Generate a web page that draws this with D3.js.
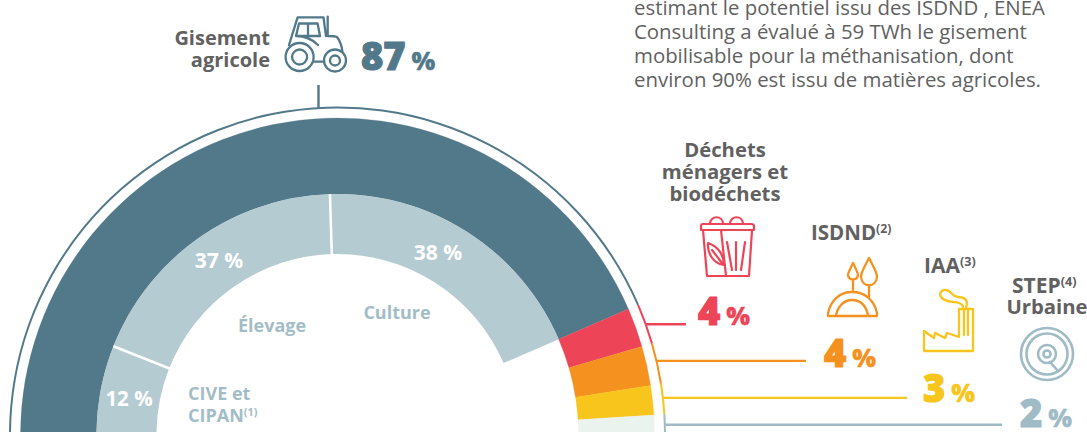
<!DOCTYPE html>
<html>
<head>
<meta charset="utf-8">
<script src="https://cdn.jsdelivr.net/npm/d3@7"></script>
<style>
html, body { margin: 0; padding: 0; background: #fff; overflow: hidden; }
svg { display: block; }
text { font-family: "Open Sans", sans-serif; }
</style>
</head>
<body>
<svg id="chart" width="1087" height="432"></svg>
<script>
// gisement mobilisable, parts en %
var sources = ["Gisement agricole", "Déchets ménagers et biodéchets", "ISDND", "IAA", "STEP Urbaine"];
var source_values = [87, 4, 4, 3, 2];
var ring_colors = ["#52798a", "#ee4458", "#f5911e", "#f7c51b", "#eaf3ed"];
var edge_colors = ["#52798a", "#ee4458", "#f5911e", "#f7c51b", "#9fbbc6"];

var agri_sources = ["CIVE et CIPAN", "Élevage", "Culture"];
var agri_values = [12, 37, 38];
var other_value = 13; // reste du demi-cercle, non dessiné

var paragraph = [
    "estimant le potentiel issu des ISDND , ENEA",
    "Consulting a évalué à 59 TWh le gisement",
    "mobilisable pour la méthanisation, dont",
    "environ 90% est issu de matières agricoles."
];

var cx = 337.5, cy = 435;
var svg = d3.select("#chart");
var g = svg.append("g").attr("transform", "translate(" + cx + "," + cy + ")");

var pie = d3.pie().sort(null).value(function (d) { return d; })
    .startAngle(-Math.PI / 2).endAngle(Math.PI / 2);

var outer_arcs = pie(source_values);
var inner_arcs = pie(agri_values.concat([other_value]));

var ring = d3.arc().innerRadius(241).outerRadius(317);
var edge = d3.arc().innerRadius(326.5).outerRadius(328.5);
var inner_ring = d3.arc().innerRadius(181).outerRadius(241);

function draw_rings() {
    g.selectAll(".ring").data(outer_arcs).enter().append("path")
        .attr("class", "ring")
        .attr("d", ring)
        .attr("fill", function (d, i) { return ring_colors[i]; })
        .attr("stroke", function (d, i) { return ring_colors[i]; })
        .attr("stroke-width", 0.3);

    g.selectAll(".edge").data(outer_arcs).enter().append("path")
        .attr("class", "edge")
        .attr("d", edge)
        .attr("fill", function (d, i) { return edge_colors[i]; });

    g.selectAll(".inner").data(inner_arcs.slice(0, 3)).enter().append("path")
        .attr("class", "inner")
        .attr("d", inner_ring)
        .attr("fill", "#b5cbd2");

    // séparateurs blancs entre les parts agricoles
    g.selectAll(".sep").data(inner_arcs.slice(0, 2)).enter().append("line")
        .attr("class", "sep")
        .attr("x1", function (d) { return 180 * Math.sin(d.endAngle); })
        .attr("y1", function (d) { return -180 * Math.cos(d.endAngle); })
        .attr("x2", function (d) { return 241 * Math.sin(d.endAngle); })
        .attr("y2", function (d) { return -241 * Math.cos(d.endAngle); })
        .attr("stroke", "#fff")
        .attr("stroke-width", 2.5);
}

function draw_leaders() {
    var ends = [686, 806, 907, 1002];
    var along = [0.5, 0.43, 0.46, 0.5]; // où le trait part sur le segment
    outer_arcs.slice(1).forEach(function (d, i) {
        var a = d.startAngle + (d.endAngle - d.startAngle) * along[i];
        var x = cx + 327 * Math.sin(a), y = cy - 327 * Math.cos(a);
        svg.append("line")
            .attr("x1", x).attr("y1", y).attr("x2", ends[i]).attr("y2", y)
            .attr("stroke", edge_colors[i + 1])
            .attr("stroke-width", 2.4);
    });
    svg.append("line")
        .attr("x1", 318.5).attr("y1", 85).attr("x2", 318.5).attr("y2", 108)
        .attr("stroke", edge_colors[0]).attr("stroke-width", 2.4);
}

function label(lines, x, y, step, anchor, size, color, weight) {
    lines.forEach(function (t, i) {
        svg.append("text")
            .attr("x", x).attr("y", y + i * step)
            .attr("text-anchor", anchor)
            .style("font-size", size + "px")
            .style("font-weight", weight)
            .style("fill", color)
            .text(t);
    });
}

function sup_label(text, sup, x, y, anchor, size, color) {
    var t = svg.append("text")
        .attr("x", x).attr("y", y)
        .attr("text-anchor", anchor)
        .style("font-size", size + "px")
        .style("font-weight", 700)
        .style("fill", color)
        .text(text);
    t.append("tspan")
        .attr("dy", -size * 0.35)
        .style("font-size", (size * 0.6) + "px")
        .text(sup);
}

function percent(value, x, y, color, size) {
    var t = svg.append("text")
        .attr("x", x).attr("y", y)
        .style("font-size", size + "px")
        .style("font-weight", 800)
        .style("fill", color)
        .style("stroke", color)
        .style("stroke-width", 1.2)
        .style("stroke-linejoin", "round")
        .text(value);
    t.append("tspan")
        .attr("dx", 6)
        .style("font-size", (size * 0.66) + "px")
        .style("stroke-width", 0.3)
        .text("%");
}

function draw_labels() {
    var grey = "#616161";
    label(paragraph, 634, 15, 24, "start", 20.4, "#616161", 400);

    label(["Gisement", "agricole"], 270, 45, 22, "end", 20, grey, 700);
    label(["Déchets", "ménagers et", "biodéchets"], 725, 157, 21.8, "middle", 20.3, grey, 700);
    sup_label("ISDND", "(2)", 811, 240, "start", 20.5, grey);
    sup_label("IAA", "(3)", 924, 273, "start", 21, grey);
    sup_label("STEP", "(4)", 1012, 293, "start", 21, grey);
    label(["Urbaine"], 1047, 314, 0, "middle", 20.3, grey, 700);

    percent(source_values[0], 361, 70, ring_colors[0], 38);
    percent(source_values[1], 698, 325, ring_colors[1], 38);
    percent(source_values[2], 824, 367, ring_colors[2], 38);
    percent(source_values[3], 923, 402, ring_colors[3], 38);
    percent(source_values[4], 1020, 427, edge_colors[4], 38);

    label([agri_values[2] + " %"], 438, 260, 0, "middle", 21, "#fff", 700);
    label([agri_values[1] + " %"], 219, 268, 0, "middle", 21, "#fff", 700);
    label([agri_values[0] + " %"], 129, 406, 0, "middle", 20.5, "#fff", 700);

    label([agri_sources[2]], 397, 319, 0, "middle", 18, "#a3bdc7", 700);
    label([agri_sources[1]], 272, 332, 0, "middle", 18, "#a3bdc7", 700);
    label(["CIVE et"], 188, 400, 0, "start", 18, "#a3bdc7", 700);
    sup_label("CIPAN", "(1)", 188, 422, "start", 18, "#a3bdc7");
}

// pictos dessinés à la main
function icon(x, y, color, sw) {
    return svg.append("g")
        .attr("transform", "translate(" + x + "," + y + ")")
        .attr("fill", "none")
        .attr("stroke", color)
        .attr("stroke-width", sw)
        .attr("stroke-linejoin", "round")
        .attr("stroke-linecap", "round");
}

function draw_icons() {
    // tracteur
    var t = icon(285, 16, ring_colors[0], 2.3);
    t.append("circle").attr("cx", 14.6).attr("cy", 41).attr("r", 14);
    t.append("circle").attr("cx", 14.6).attr("cy", 41).attr("r", 7.5);
    t.append("circle").attr("cx", 50).attr("cy", 44.5).attr("r", 11);
    t.append("circle").attr("cx", 50).attr("cy", 44.5).attr("r", 5);
    t.append("path").attr("d", "M4 29L12.6 1.3H38.5L41 20M42.7 0.6V20C47 20 50 20 52 21C55 25 57 31 57.5 36");
    t.append("path").attr("d", "M14 7.5H32.6L35 20H11ZM23 7.5V20M11 20C20 20 27 23 33 29M28 45.6H39");

    // poubelle
    var b = icon(700, 217, ring_colors[1], 2.2);
    b.append("path").attr("d", "M1 13V9C1 8 2 7 3 7H51C53 7 54 8 54 9V13H1ZM10 7C10 -2 23 -2 23 7M30 7C30 -2 43 -2 43 7");
    b.append("path").attr("d", "M3 13L7 59H49L52 13M21 13L26 59");
    b.append("path").attr("d", "M27 25L32 53M36 25V53M45 25L41 53");
    b.append("path").attr("d", "M8 26C17 29 24 37 24 48C15 47 7 38 8 26ZM12 33L22 46");

    // ISDND
    var d = icon(827, 258, ring_colors[2], 2.3);
    d.append("path").attr("d", "M1 58H50V55C47 42 38 34 25 34C13 34 4 42 1 55Z");
    d.append("path").attr("d", "M9 57C11 48 17 42 25 42C34 42 39 48 41 57");
    d.append("path").attr("d", "M26 5C22 13 21 15 21 17C22 23 30 23 31 17C31 15 30 13 26 5ZM26 22V32");
    d.append("path").attr("d", "M42 0C37 10 34 14 34 19C35 30 49 30 50 19C50 14 47 10 42 0ZM42 28V39");

    // usine
    var f = icon(923, 289, ring_colors[3], 2.3);
    f.append("path").attr("d", "M1 42L11 49L12 44L22 49L24 44L36 48V20H50V62H1Z");
    f.append("path").attr("d", "M41 20V46M45 20V46");
    f.append("path").attr("d", "M43 18C46 11 41 8 35 8C29 8 28 1 23 1C18 0 16 6 18 8C22 14 30 12 36 14C39 15 40 17 40 18");

    // STEP
    var s = icon(1047, 354, "#9fbbc6", 2.6);
    s.append("circle").attr("r", 26);
    s.append("circle").attr("r", 20.5);
    s.append("circle").attr("r", 9);
    s.append("circle").attr("r", 3.5);
    s.append("path").attr("d", "M3 8L11 17");
}

draw_rings();
draw_leaders();
draw_labels();
draw_icons();
</script>
</body>
</html>
